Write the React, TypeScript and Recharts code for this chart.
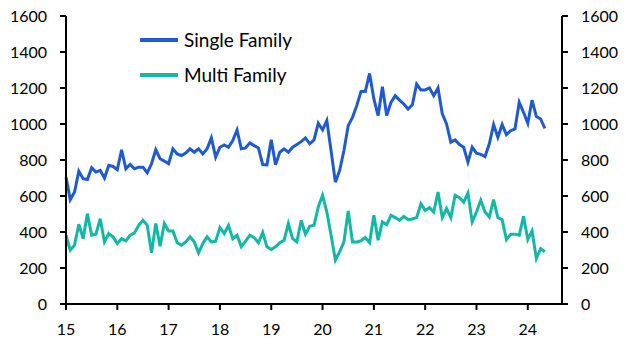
import { LineChart, Line, XAxis, YAxis } from 'recharts'

// monthly, Jan 2015 - May 2024 (thousands, annualised)
const singleFamily = [
  705, 580, 622, 738, 696, 692, 757, 733, 742, 700, 770, 764,
  746, 857, 751, 775, 751, 760, 760, 729, 779, 857, 807, 794,
  779, 862, 834, 825, 838, 862, 843, 862, 834, 862, 923, 816,
  871, 884, 871, 908, 967, 862, 867, 895, 880, 867, 775, 773,
  912, 773, 843, 862, 843, 871, 886, 902, 923, 890, 912, 1004,
  967, 1019, 850, 677, 742, 853, 991, 1037, 1102, 1181, 1181, 1281,
  1139, 1047, 1207, 1047, 1120, 1157, 1133, 1111, 1083, 1107, 1222, 1189,
  1189, 1200, 1157, 1200, 1056, 1000, 899, 912, 886, 871, 788, 871,
  838, 831, 819, 890, 997, 926, 997, 941, 963, 973, 1120, 1065,
  1004, 1133, 1041, 1028, 976,
]

const multiFamily = [
  382, 299, 327, 443, 363, 502, 382, 388, 474, 345, 391, 373,
  336, 363, 351, 382, 395, 437, 465, 437, 284, 447, 321, 447,
  406, 406, 340, 327, 345, 373, 345, 284, 336, 373, 345, 349,
  425, 391, 437, 363, 382, 318, 349, 382, 369, 340, 397, 318,
  303, 318, 340, 354, 447, 363, 345, 465, 388, 432, 437, 539,
  604, 511, 380, 244, 290, 345, 517, 345, 345, 351, 369, 340,
  493, 354, 456, 441, 493, 480, 465, 487, 469, 472, 480, 557,
  520, 535, 511, 622, 480, 530, 480, 604, 591, 566, 616, 456,
  511, 576, 511, 483, 580, 480, 469, 358, 388, 388, 382, 487,
  358, 406, 253, 308, 290,
]

const yearLabels = ['15', '16', '17', '18', '19', '20', '21', '22', '23', '24']
const yTicks = [0, 200, 400, 600, 800, 1000, 1200, 1400, 1600]

const BLUE = '#1f5ad2'
const TEAL = '#12b8a6'
const FONT = 'Lato, "Noto Sans", sans-serif'

const data = singleFamily.map((v, i) => ({ m: i, single: v, multi: multiFamily[i] }))
const xTicks = yearLabels.map((_, i) => i * 12)

const tickStyle = { fill: '#000', fontSize: 16, fontFamily: FONT }
const axisStroke = { stroke: '#000', strokeWidth: 2 }

function LegendItem({ color, label }: { color: string; label: string }) {
  return (
    <div style={{ display: 'flex', alignItems: 'center', height: 35 }}>
      <div style={{ width: 38, height: 4, background: color, marginRight: 6 }} />
      <span style={{ fontFamily: FONT, fontSize: 19, color: '#000' }}>{label}</span>
    </div>
  )
}

export default function App() {
  return (
    <div style={{ position: 'absolute', left: 0, top: 0, width: 632, height: 357, background: '#fff' }}>
      <LineChart
        width={632}
        height={357}
        data={data}
        margin={{ top: 16, right: 0, left: 0, bottom: 0 }}
      >
        <XAxis
          dataKey="m"
          type="number"
          domain={[0, 116]}
          ticks={xTicks}
          tickFormatter={(v: number) => yearLabels[v / 12]}
          tick={tickStyle}
          axisLine={axisStroke}
          tickLine={axisStroke}
          tickSize={6}
          tickMargin={14}
          height={53}
        />
        <YAxis
          yAxisId="left"
          domain={[0, 1600]}
          ticks={yTicks}
          tick={tickStyle}
          axisLine={axisStroke}
          tickLine={axisStroke}
          tickSize={6}
          tickMargin={13}
          width={66}
          interval={0}
        />
        <YAxis
          yAxisId="right"
          orientation="right"
          domain={[0, 1600]}
          ticks={yTicks}
          tick={tickStyle}
          axisLine={axisStroke}
          tickLine={axisStroke}
          tickSize={6}
          tickMargin={13}
          width={70}
          interval={0}
        />
        <Line
          yAxisId="left"
          dataKey="single"
          stroke={BLUE}
          strokeWidth={3}
          dot={false}
          isAnimationActive={false}
        />
        <Line
          yAxisId="right"
          dataKey="multi"
          stroke={TEAL}
          strokeWidth={3}
          dot={false}
          isAnimationActive={false}
        />
      </LineChart>
      <div style={{ position: 'absolute', left: 140, top: 22 }}>
        <LegendItem color={BLUE} label="Single Family" />
        <LegendItem color={TEAL} label="Multi Family" />
      </div>
    </div>
  )
}
